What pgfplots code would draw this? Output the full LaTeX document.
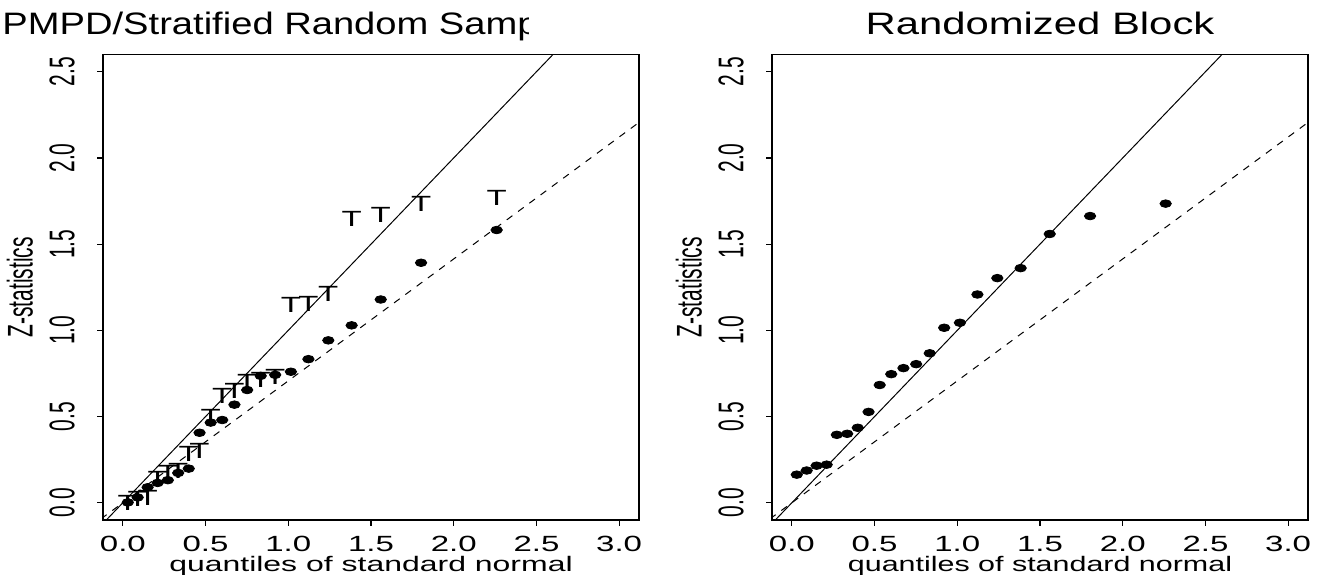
\documentclass[border=0pt]{standalone}
\usepackage{pgfplots}
\pgfplotsset{compat=1.18}
\usepackage{fontspec}
\setmainfont{Liberation Sans}
\usetikzlibrary{plotmarks}

\newcommand\tickfont{\fontsize{11}{13}\selectfont}
\newcommand\ytickfont{\fontsize{10.5}{12}\selectfont}
\newcommand\labfont{\fontsize{10.5}{12}\selectfont}
\newcommand\titlefont{\fontsize{15.5}{17}\selectfont}

\pgfplotsset{
  panel/.style={
    at={(#1,27pt)}, anchor=south west,
    scale only axis, width=268pt, height=232.75pt,
    xmin=-0.12, xmax=3.12, ymin=-0.1, ymax=2.6,
    xtick={0,0.5,1,1.5,2,2.5,3}, ytick={0,0.5,1,1.5,2,2.5},
    tick align=outside, tick pos=left,
    major tick length=2.8pt,
    axis line style={line width=0.6pt},
    every tick/.style={black, line width=0.6pt},
    /pgf/number format/fixed, /pgf/number format/fixed zerofill,
    /pgf/number format/precision=1, /pgf/number format/assume math mode=true,
    xticklabel style={font=\tickfont, xscale=1.5, anchor=base, yshift=-13pt},
    yticklabel style={font=\ytickfont, xshift=-11.5pt, rotate=90, anchor=base, yscale=1.7},
    xlabel={quantiles of standard normal}, ylabel={Z-statistics},
    every axis x label/.style={at={(axis description cs:0.5,-0.11)}, anchor=base, font=\labfont, xscale=1.45},
    every axis y label/.style={at={(axis description cs:-0.155,0.5)}, rotate=90, anchor=center, font=\ytickfont, yscale=1.7},
  },
  refline/.style={black, line width=0.5pt},
  halfline/.style={black, line width=0.5pt, dash pattern=on 3.5pt off 3.5pt},
  dots/.style={only marks, mark=*, mark size=1.9pt, mark options={xscale=1.5, fill=black}},
}

\begin{document}
\begin{tikzpicture}
\useasboundingbox (0,0) rectangle (661.5pt,287pt);

% left panel
\begin{axis}[panel=51.5pt, every axis x label/.append style={xscale=1.05}]
\addplot[refline] coordinates {(-0.2,-0.2) (3.2,3.2)};
\addplot[halfline] coordinates {(-0.2,-0.1414) (3.2,2.2627)};
\addplot[dots] coordinates {
(0.0298,0.002) (0.0896,0.031) (0.1497,0.090) (0.2104,0.115) (0.2719,0.131)
(0.3345,0.173) (0.3982,0.198) (0.4637,0.406) (0.5310,0.465) (0.6008,0.480)
(0.6745,0.569) (0.7515,0.654) (0.8333,0.736) (0.9208,0.742) (1.0158,0.760)
(1.1217,0.833) (1.2419,0.942) (1.3830,1.029) (1.5588,1.179) (1.8027,1.392)
(2.2595,1.582)};
\addplot[only marks, mark=text, text mark={T}, text mark as node=true,
  text mark style={font=\fontsize{11}{13}\selectfont, xscale=1.5, inner sep=0pt, anchor=center}]
coordinates {
(0.0298,0.000) (0.0896,0.020) (0.1497,0.030) (0.2104,0.140) (0.2719,0.175)
(0.3345,0.185) (0.3982,0.285) (0.4637,0.300) (0.5310,0.495) (0.6008,0.620)
(0.6745,0.650) (0.7515,0.700) (0.8333,0.715) (0.9208,0.730) (1.0158,1.150)
(1.1217,1.153) (1.2419,1.213) (1.3830,1.646) (1.5588,1.669) (1.8027,1.736)
(2.2595,1.769)};
\end{axis}

% right panel
\begin{axis}[panel=386pt]
\addplot[refline] coordinates {(-0.2,-0.2) (3.2,3.2)};
\addplot[halfline] coordinates {(-0.2,-0.1414) (3.2,2.2627)};
\addplot[dots] coordinates {
(0.0298,0.163) (0.0896,0.187) (0.1497,0.215) (0.2104,0.221) (0.2719,0.394)
(0.3345,0.400) (0.3982,0.435) (0.4637,0.527) (0.5310,0.683) (0.6008,0.746)
(0.6745,0.781) (0.7515,0.804) (0.8333,0.867) (0.9208,1.015) (1.0158,1.044)
(1.1217,1.208) (1.2419,1.303) (1.3830,1.361) (1.5588,1.559) (1.8027,1.663)
(2.2595,1.735)};
\end{axis}

% titles
\begin{scope}
\clip (0,0) rectangle (264pt,287pt);
\node[anchor=base west, xscale=1.23, font=\titlefont, inner sep=0pt] at (1pt,269.5pt) {PMPD/Stratified Random Sample};
\end{scope}
\node[anchor=base, xscale=1.35, font=\titlefont, inner sep=0pt] at (520pt,269.5pt) {Randomized Block};
\end{tikzpicture}
\end{document}
